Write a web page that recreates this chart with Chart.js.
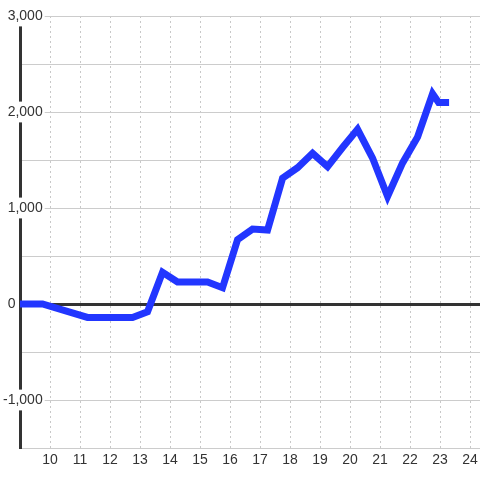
<!DOCTYPE html>
<html>
<head>
<meta charset="utf-8">
<script src="https://cdn.jsdelivr.net/npm/chart.js@4/dist/chart.umd.min.js"></script>
<style>
    html, body { margin: 0; padding: 0; background: #fff; }
    #wrap { width: 480px; height: 480px; }
</style>
</head>
<body>
<div id="wrap"><canvas id="chart"></canvas></div>
<script>
"use strict";

// hours of the day (x) and running total (y)
const HOURS  = [9, 9.75, 11.25, 12.75, 13.25, 13.75, 14.25, 15.25, 15.75, 16.25, 16.75, 17.25,
                17.75, 18.25, 18.75, 19.25, 19.75, 20.25, 20.75, 21.25, 21.75, 22.25, 22.75, 22.95, 23.3];
const TOTALS = [0, 0, -140, -140, -80, 330, 230, 230, 170, 670, 780, 770,
                1310, 1420, 1570, 1430, 1630, 1820, 1520, 1120, 1470, 1740, 2190, 2100, 2100];

const X_TICKS = [10, 11, 12, 13, 14, 15, 16, 17, 18, 19, 20, 21, 22, 23, 24];

const X_MIN = 9;
const X_MAX = 24.33;
const Y_MIN = -1500;
const Y_MAX = 3000;
const Y_STEP = 500;
const Y_LABEL_STEP = 1000;

const FONT = { family: "'Liberation Sans', Arial, sans-serif", size: 14 };
const TEXT = '#333';
const ZERO_SHIFT = '\u00a0\u00a0\u00a0\u00a0\u00a0\u00a0\u00a0';   // keeps "0" left of the axis

function _points() {
    return HOURS.map(function(h, i) { return { x: h, y: TOTALS[i] }; });
}

function _yLabel(v) {
    if (v === 0) { return '0' + ZERO_SHIFT; }
    return v % Y_LABEL_STEP === 0 ? v.toLocaleString('en-US') : '';
}

new Chart(document.getElementById('chart'), {
    type: 'line',
    data: {
        datasets: [{
            data: _points(),
            borderColor: '#2236ff',
            backgroundColor: 'transparent',
            borderWidth: 7,
            pointRadius: 0,
            tension: 0
        }]
    },
    options: {
        responsive: true,
        maintainAspectRatio: false,
        animation: false,
        layout: { padding: { top: 16, left: 0, right: 0, bottom: 0 } },
        plugins: { legend: { display: false }, tooltip: { enabled: false } },
        scales: {
            x: {
                type: 'linear',
                min: X_MIN,
                max: X_MAX,
                afterBuildTicks: function(s) {
                    s.ticks = X_TICKS.map(function(v) { return { value: v }; });
                },
                afterFit: function(s) {
                    s.height = 32;
                    s.paddingLeft = 0;
                    s.paddingRight = 0;
                },
                ticks: { color: TEXT, font: FONT, padding: 4, maxRotation: 0, autoSkip: false },
                grid: { color: '#c8c8c8', lineWidth: 1, drawTicks: false },
                border: { display: false, dash: [2, 3] }
            },
            y: {
                min: Y_MIN,
                max: Y_MAX,
                afterFit: function(s) { s.width = 20; },
                ticks: {
                    stepSize: Y_STEP,
                    color: TEXT,
                    font: FONT,
                    mirror: true,
                    crossAlign: 'far',
                    padding: -17,
                    callback: _yLabel,
                    showLabelBackdrop: function(c) {
                        return c.tick && c.tick.value !== 0 && c.tick.value % Y_LABEL_STEP === 0;
                    },
                    backdropColor: '#fff',
                    backdropPadding: 2
                },
                grid: {
                    drawTicks: false,
                    color: function(c) { return c.tick && c.tick.value === 0 ? '#333' : '#cccccc'; },
                    lineWidth: function(c) { return c.tick && c.tick.value === 0 ? 3 : 1; }
                },
                border: { display: true, color: '#333', width: 3 }
            }
        }
    }
});
</script>
</body>
</html>
